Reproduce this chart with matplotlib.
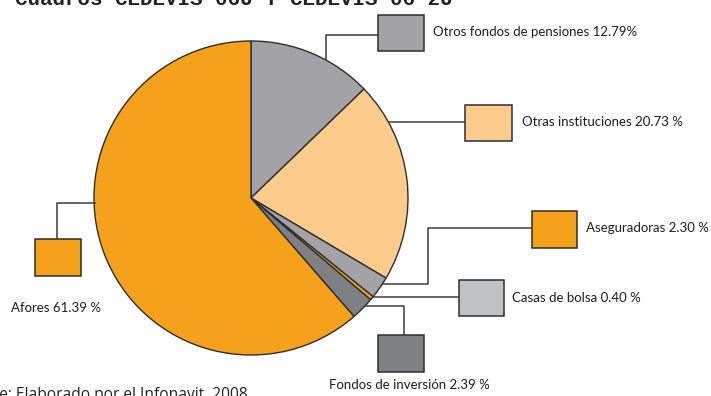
import matplotlib
matplotlib.use("Agg")
import matplotlib.pyplot as plt
from matplotlib.patches import Rectangle

# Holders of the certificates (share, %), clockwise from 12 o'clock
labels = ["Otros fondos de pensiones", "Otras instituciones", "Aseguradoras",
          "Casas de bolsa", "Fondos de inversión", "Afores"]
shares = [12.79, 20.73, 2.30, 0.40, 2.39, 61.39]
label_texts = ["Otros fondos de pensiones 12.79%", "Otras instituciones 20.73 %",
               "Aseguradoras 2.30 %", "Casas de bolsa 0.40 %",
               "Fondos de inversión 2.39 %", "Afores 61.39 %"]

ORANGE = "#F5A11C"
PEACH = "#FDCB8B"
GRAY = "#A2A2A7"
DARK = "#7F8084"
LIGHT = "#C0C1C4"
EDGE = "#2e2e2e"
LINE = "#3c3c3c"

wedge_colors = [GRAY, PEACH, GRAY, ORANGE, DARK, ORANGE]
box_colors = [GRAY, PEACH, ORANGE, LIGHT, DARK, ORANGE]

W, H = 711, 396
fig = plt.figure(figsize=(W / 100, H / 100), dpi=100)
ax = fig.add_axes([0, 0, 1, 1])


def Y(y):
    return H - y


cx, cy, R = 251, 198, 157
ax.pie(shares, startangle=90, counterclock=False, center=(cx, Y(cy)), radius=R,
       colors=wedge_colors,
       wedgeprops=dict(edgecolor=EDGE, linewidth=1.0))

ax.set_xlim(0, W)
ax.set_ylim(0, H)
ax.set_aspect("equal")
ax.axis("off")

# leader lines (pixel layout, y measured from top)
leaders = [
    [(326, 60), (326, 35), (378, 35)],
    [(388, 122), (465, 122)],
    [(382, 284), (428, 284), (428, 228), (532, 228)],
    [(372, 297), (459, 297)],
    [(365, 306), (404, 306), (404, 335)],
    [(96, 203), (57, 203), (57, 239)],
]
for pts in leaders:
    xs = [p[0] for p in pts]
    ys = [Y(p[1]) for p in pts]
    ax.plot(xs, ys, color=LINE, lw=1.1, solid_capstyle="butt", zorder=3)

# legend boxes: (left, top, width, height)
boxes = [(378, 15, 46, 36), (465, 105, 47, 36), (532, 211, 45, 37),
         (459, 280, 45, 36), (378, 335, 46, 37), (35, 239, 46, 37)]
for (x, y, w, h), c in zip(boxes, box_colors):
    ax.add_patch(Rectangle((x, Y(y + h)), w, h, facecolor=c, edgecolor=EDGE,
                           lw=1.1, zorder=4))

font = dict(family=["Lato", "DejaVu Sans"], fontsize=9.5, color="#1e1e1e")
text_pos = [(433, 32, "left"), (522, 122, "left"), (586, 228, "left"),
            (512, 298, "left"), (409, 385, "center"), (11, 308, "left")]
for (x, y, ha), t in zip(text_pos, label_texts):
    ax.text(x, Y(y), t, ha=ha, va="center", **font)

# heading and source line running off the figure edges
ax.text(15, Y(5), "Cuadros CEDEVIS 06U Y CEDEVIS 06 2U", ha="left", va="baseline",
        family=["Liberation Mono", "DejaVu Sans Mono"], fontsize=15,
        fontweight="bold", color="#222222", clip_on=False)
ax.text(-42, Y(399), "Fuente: Elaborado por el Infonavit, 2008", ha="left",
        va="baseline", family=["Open Sans", "DejaVu Sans"], fontsize=11.2,
        color="#222222", clip_on=False)

fig.savefig("out.png", dpi=100)
